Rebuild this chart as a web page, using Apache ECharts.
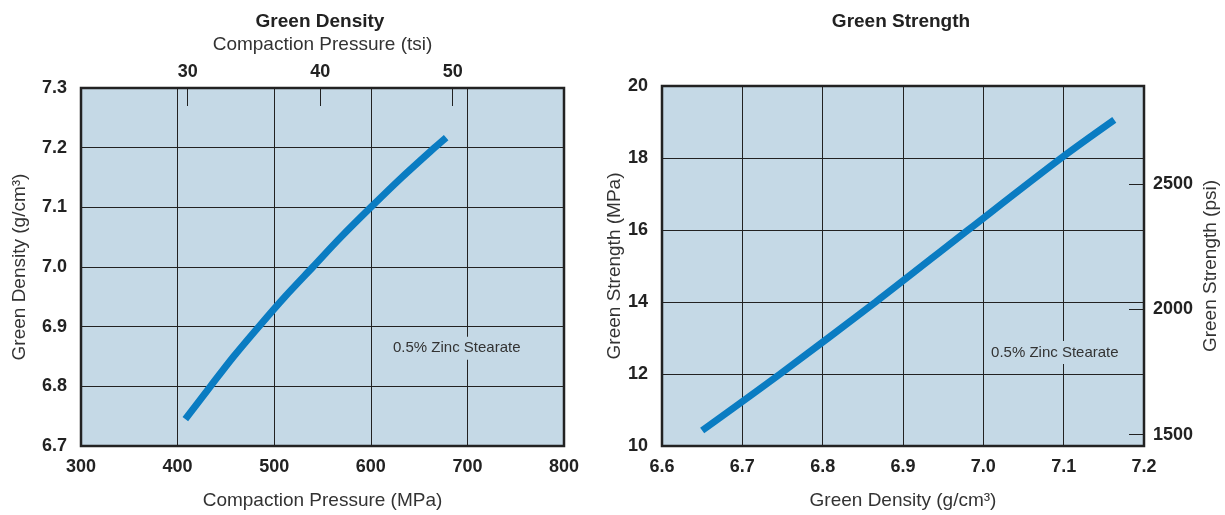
<html>
<head>
    <meta charset="utf-8">
</head>
<body style="margin:0">
    <script src="https://cdn.jsdelivr.net/npm/echarts@6/dist/echarts.min.js"></script>

    <div id="main" style="width: 1225px;height: 515px"></div>

    <script>
// left chart: compaction pressure (MPa) vs green density (g/cm3)
var pressureMPa = [408, 434, 458, 484, 511, 540, 569, 600, 632, 666, 678];
var greenDensity = [6.745, 6.80, 6.85, 6.90, 6.95, 7.00, 7.05, 7.10, 7.15, 7.20, 7.217];

// right chart: green density vs green strength (MPa)
var densityX = [6.650, 6.747, 6.866, 6.981, 7.097, 7.163];
var strengthMPa = [10.43, 12.0, 14.0, 16.0, 18.0, 19.06];

var tsiTicks = [30, 40, 50];
var psiTicks = [1500, 2000, 2500];
var noteText = '0.5% Zinc Stearate';

var font = "'Liberation Sans', Arial, sans-serif";
var plotBg = '#c5d9e6';
var lineBlue = '#0a7cc2';

var myChart = echarts.init(document.getElementById('main'));

function tickLabel(m, fmt) {
    return {
        margin: m,
        color: '#222',
        fontFamily: font,
        fontWeight: 'bold',
        fontSize: 18,
        formatter: fmt || function (v) { return String(v); }
    };
}
var nameStyle = { color: '#333', fontFamily: font, fontSize: 19 };
var gridLines = { show: true, lineStyle: { color: '#222', width: 1 } };

function zip(a, b) {
    return a.map(function (v, i) { return [v, b[i]]; });
}

function note(x, y) {
    return {
        symbol: 'circle',
        symbolSize: 0,
        silent: true,
        label: {
            show: true,
            position: 'inside',
            formatter: noteText,
            color: '#333',
            fontFamily: font,
            fontSize: 15,
            backgroundColor: plotBg,
            padding: [4, 2]
        },
        data: [{ coord: [x, y] }]
    };
}

option = {
    animation: false,
    title: [
        { text: 'Green Density', left: 315, textAlign: 'center', top: 7,
          textStyle: { fontFamily: font, fontWeight: 'bold', fontSize: 19, color: '#222' } },
        { text: 'Green Strength', left: 896, textAlign: 'center', top: 7,
          textStyle: { fontFamily: font, fontWeight: 'bold', fontSize: 19, color: '#222' } }
    ],
    grid: [
        { left: 81, top: 88, width: 483, height: 359, show: true,
          backgroundColor: plotBg, borderColor: '#222', borderWidth: 2.5 },
        { left: 662, top: 86, width: 482, height: 361, show: true,
          backgroundColor: plotBg, borderColor: '#222', borderWidth: 2.5 }
    ],
    xAxis: [
        {
            type: 'value', gridIndex: 0, min: 300, max: 800, interval: 100,
            name: 'Compaction Pressure (MPa)', nameLocation: 'middle', nameGap: 45,
            nameTextStyle: nameStyle,
            axisLine: { show: false }, axisTick: { show: false },
            axisLabel: tickLabel(12),
            splitLine: gridLines
        },
        {
            type: 'value', gridIndex: 0, position: 'top', min: 21.95, max: 58.4,
            name: 'Compaction Pressure (tsi)', nameLocation: 'middle', nameGap: 34,
            nameTextStyle: nameStyle,
            axisLine: { show: false },
            axisTick: { show: true, inside: true, length: 18, customValues: tsiTicks,
                        lineStyle: { color: '#222', width: 1 } },
            axisLabel: Object.assign(tickLabel(7), { customValues: tsiTicks }),
            splitLine: { show: false }
        },
        {
            type: 'value', gridIndex: 1, min: 6.6, max: 7.2, interval: 0.1,
            name: 'Green Density (g/cm³)', nameLocation: 'middle', nameGap: 45,
            nameTextStyle: nameStyle,
            axisLine: { show: false }, axisTick: { show: false },
            axisLabel: tickLabel(12, function (v) { return v.toFixed(1); }),
            splitLine: gridLines
        }
    ],
    yAxis: [
        {
            type: 'value', gridIndex: 0, min: 6.7, max: 7.3, interval: 0.1,
            name: 'Green Density (g/cm³)', nameLocation: 'middle', nameGap: 52,
            nameTextStyle: nameStyle,
            axisLine: { show: false }, axisTick: { show: false },
            axisLabel: tickLabel(14, function (v) { return v.toFixed(1); }),
            splitLine: gridLines
        },
        {
            type: 'value', gridIndex: 1, min: 10, max: 20, interval: 2,
            name: 'Green Strength (MPa)', nameLocation: 'middle', nameGap: 38,
            nameTextStyle: nameStyle,
            axisLine: { show: false }, axisTick: { show: false },
            axisLabel: tickLabel(14),
            splitLine: gridLines
        },
        {
            type: 'value', gridIndex: 1, position: 'right', min: 1455, max: 2890,
            name: 'Green Strength (psi)', nameLocation: 'middle', nameGap: 57,
            nameTextStyle: nameStyle,
            axisLine: { show: false },
            axisTick: { show: true, inside: true, length: 15, customValues: psiTicks,
                        lineStyle: { color: '#222', width: 1 } },
            axisLabel: Object.assign(tickLabel(9), { customValues: psiTicks }),
            splitLine: { show: false }
        }
    ],
    series: [
        {
            type: 'line', xAxisIndex: 0, yAxisIndex: 0,
            data: zip(pressureMPa, greenDensity),
            smooth: 0.3, showSymbol: false,
            lineStyle: { color: lineBlue, width: 7 },
            markPoint: note(689, 6.864)
        },
        {
            type: 'line', xAxisIndex: 2, yAxisIndex: 1,
            data: zip(densityX, strengthMPa),
            smooth: 0.3, showSymbol: false,
            lineStyle: { color: lineBlue, width: 7 },
            markPoint: note(7.089, 12.6)
        }
    ]
};

myChart.setOption(option);
    </script>
</body>
</html>
